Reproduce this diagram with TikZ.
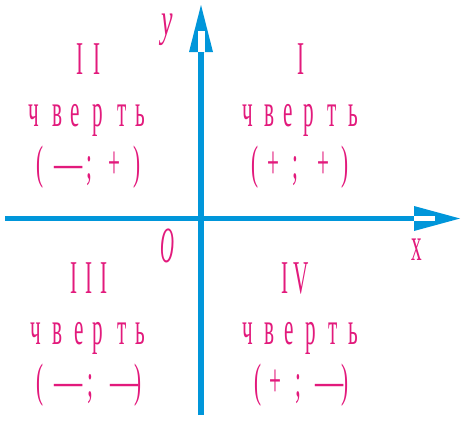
\documentclass[tikz,border=0pt]{standalone}
\usepackage{fontspec}
\newfontfamily\labfont[FakeStretch=0.45]{Liberation Serif}
\newfontfamily\labwide[FakeStretch=0.6]{Liberation Serif}
\newfontfamily\labit[FakeStretch=0.55]{Liberation Serif Italic}
\newfontfamily\labitn[FakeStretch=0.38]{Liberation Serif Italic}
\definecolor{mag}{RGB}{226,26,124}
\definecolor{axblue}{RGB}{0,150,218}
\tikzset{
  lab/.style={text=mag, inner sep=0pt, anchor=base, font=\fontsize{35.25}{40}\labfont},
  labw/.style={text=mag, inner sep=0pt, anchor=base, font=\fontsize{35.25}{40}\labwide},
  labi/.style={text=mag, inner sep=0pt, anchor=base, font=\fontsize{35.25}{40}\labit},
  labo/.style={text=mag, inner sep=0pt, anchor=base, font=\fontsize{35.25}{40}\labitn},
  axis/.style={draw=axblue, line width=4.125pt},
}
\begin{document}
\begin{tikzpicture}[x=0.75pt,y=-0.75pt]
\useasboundingbox (0,0) rectangle (466,421);
% axes
\coordinate (yb) at (201,415);
\coordinate (yt) at (201,52);
\coordinate (ytip) at (201,5);
\coordinate (xl) at (5,218.5);
\coordinate (xb) at (414,218.5);
\coordinate (xtip) at (460,218.5);
\draw[axis] (yb) -- (yt);
\draw[axis] (xl) -- (xb);
\fill[axblue] (189,52) -- (213,52) -- (ytip) -- cycle;
\fill[white] (197.5,31) rectangle (204.5,52);
\fill[axblue] (414,206) -- (414,231) -- (xtip) -- cycle;
\fill[white] (414,215.7) rectangle (435,221.3);
% axis labels
\node[labi, text height=0.45em] (ylab) at (167.5,35) {y};
\node[lab] (xlab) at (416.5,260) {x};
\node[labo, scale=1.08] (olab) at (167.5,262) {O};
% roman numerals
\node[lab] (n2a) at (80.5,74) {I};
\node[lab] (n2b) at (97,74) {I};
\node[lab] (n1) at (301,74) {I};
\node[lab] (n3a) at (74.5,293) {I};
\node[lab] (n3b) at (89.5,293) {I};
\node[lab] (n3c) at (104.5,293) {I};
\node[lab] (n4a) at (285,293) {I};
\node[lab] (n4b) at (301.5,293) {V};
% "четверть" rows
\foreach \x/\g [count=\i] in {34/ч,57.5/в,75.5/е,97.5/р,122/т,140/ь}
  \node[lab] (w2\i) at (\x,126) {\g};
\foreach \x/\g [count=\i] in {247.5/ч,269/в,288/е,309/р,332/т,353/ь}
  \node[lab] (w1\i) at (\x,126) {\g};
\foreach \x/\g [count=\i] in {36/ч,57.5/в,79/е,97.5/р,122/т,140/ь}
  \node[lab] (w3\i) at (\x,344) {\g};
\foreach \x/\g [count=\i] in {247.5/ч,269/в,289/е,311/р,333/т,353/ь}
  \node[lab] (w4\i) at (\x,344) {\g};
% sign rows
\node[lab] (p2a) at (40,178) {(};
\node[labw] (p2b) at (68.5,178) {—};
\node[lab] (p2c) at (89,178) {;};
\node[lab] (p2d) at (114.5,178) {+};
\node[lab] (p2e) at (137.5,178) {)};
\node[lab] (p1a) at (255.5,178) {(};
\node[lab] (p1b) at (273,178) {+};
\node[lab] (p1c) at (295.5,178) {;};
\node[lab] (p1d) at (323,178) {+};
\node[lab] (p1e) at (345.5,178) {)};
\node[lab] (p3a) at (40,396) {(};
\node[labw] (p3b) at (68.5,396) {—};
\node[lab] (p3c) at (90.5,396) {;};
\node[labw] (p3d) at (124.5,396) {—};
\node[lab] (p3e) at (138,396) {)};
\node[lab] (p4a) at (258.5,396) {(};
\node[lab] (p4b) at (275,396) {+};
\node[lab] (p4c) at (298,396) {;};
\node[labw] (p4d) at (329.5,396) {—};
\node[lab] (p4e) at (345,396) {)};
\end{tikzpicture}
\end{document}
